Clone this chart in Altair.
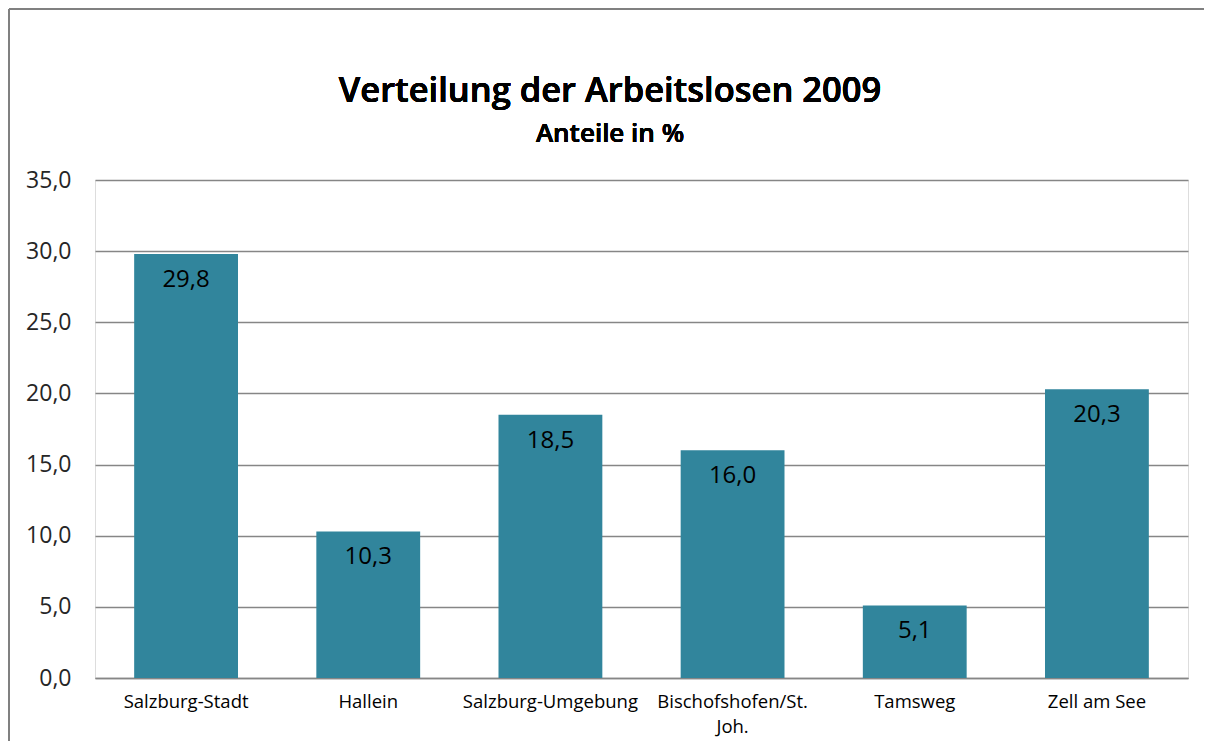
import altair as alt
import pandas as pd

categories = ["Salzburg-Stadt", "Hallein", "Salzburg-Umgebung",
              "Bischofshofen/St. Joh.", "Tamsweg", "Zell am See"]
values = [29.8, 10.3, 18.5, 16.0, 5.1, 20.3]
y_ticks = [0, 5, 10, 15, 20, 25, 30, 35]
title_text = "Verteilung der Arbeitslosen 2009"
subtitle_text = "Anteile in %"

df = pd.DataFrame({"Bezirk": categories, "Anteil": values})
df["Label"] = [f"{v:.1f}".replace(".", ",") for v in values]

FONT = "Open Sans"
BAR = "#31859C"

x = alt.X("Bezirk:N", sort=categories, title=None,
          scale=alt.Scale(paddingInner=0.43, paddingOuter=0.215),
          axis=alt.Axis(labelAngle=0, labelFontSize=18.5, labelColor="#000000",
                        labelFont=FONT, labelPadding=14, ticks=False,
                        domain=True, domainColor="#868686", domainWidth=1.3,
                        labelLimit=300, labelLineHeight=25,
                        labelExpr="datum.value == 'Bischofshofen/St. Joh.' ? ['Bischofshofen/St.', 'Joh.'] : datum.value"))
y = alt.Y("Anteil:Q", title=None,
          scale=alt.Scale(domain=[0, 35], nice=False),
          axis=alt.Axis(values=y_ticks, labelFontSize=23, labelColor="#262626",
                        labelFont=FONT, labelPadding=24, ticks=False, domain=False,
                        grid=True, gridColor="#868686", gridWidth=1.3,
                        labelExpr="replace(format(datum.value, '.1f'), '.', ',')"))

bars = alt.Chart(df).mark_bar(color=BAR).encode(x=x, y=y)
text = alt.Chart(df).mark_text(fontSize=24, font=FONT, color="#000000",
                               baseline="middle", dy=26).encode(
    x=alt.X("Bezirk:N", sort=categories), y="Anteil:Q", text="Label:N")

title = alt.Chart(df).mark_text(fontSize=34.5, font=FONT, fontWeight=600,
                                color="#000000", align="center",
                                baseline="alphabetic").encode(
    x=alt.value(515), y=alt.value(-78), text=alt.value(title_text))
subtitle = alt.Chart(df).mark_text(fontSize=26, font=FONT, fontWeight=600,
                                   color="#000000", align="center",
                                   baseline="alphabetic").encode(
    x=alt.value(515), y=alt.value(-38), text=alt.value(subtitle_text))

frame_v = alt.Chart(df).mark_rule(color="#808080", strokeWidth=1.5).encode(
    x=alt.value(-86), y=alt.value(-171), y2=alt.value(700))
frame_h = alt.Chart(df).mark_rule(color="#808080", strokeWidth=1.5).encode(
    x=alt.value(-86), x2=alt.value(1200), y=alt.value(-171))

chart = alt.layer(bars, text, title, subtitle, frame_v, frame_h).properties(
    width=1093, height=498,
    autosize=alt.AutoSizeParams(type="none"),
    padding={"left": 87, "top": 172, "right": 16, "bottom": 63},
).configure_view(strokeWidth=0).configure(background="white")

chart.save("out.html", embed_options={"renderer": "svg", "actions": False})
